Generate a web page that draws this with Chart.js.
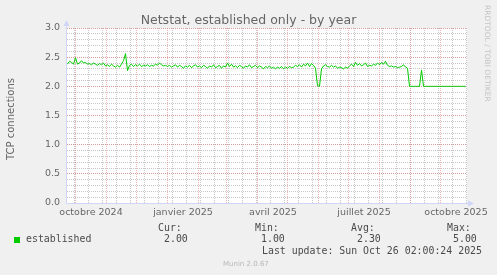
<!DOCTYPE html>
<html>
<head>
<meta charset="utf-8">
<script src="https://cdn.jsdelivr.net/npm/chart.js@4/dist/chart.umd.min.js"></script>
<style>
html,body{margin:0;padding:0;background:#f0f0f0;}
#wrap{position:relative;width:497px;height:275px;overflow:hidden;background:#f0f0f0;}
canvas{position:absolute;left:0;top:0;}
.t{position:absolute;white-space:pre;margin:0;}
.mono{font-family:"DejaVu Sans Mono",monospace;font-size:9.9px;line-height:12px;color:#4a4a4a;}
</style>
</head>
<body>
<div id="wrap">
<canvas id="c" width="497" height="275"></canvas>
<div class="t" id="title" style="left:0;top:12.5px;width:497px;text-align:center;font-family:'DejaVu Sans';font-size:12.5px;line-height:14px;color:#666;"></div>
<div class="t" id="ytitle" style="left:10.5px;top:119px;transform:translate(-50%,-50%) rotate(-90deg);font-family:'DejaVu Sans';font-size:10px;line-height:12px;color:#666;"></div>
<div class="t" id="watermark" style="left:483px;top:5px;writing-mode:vertical-rl;font-family:'DejaVu Sans';font-size:7.5px;line-height:9px;color:#c4c4c4;"></div>
<div id="legend"></div>
</div>
<script>
// ---- data ----
const chartTitle = "Netstat, established only - by year";
const yAxisTitle = "TCP connections";
const seriesName = "established";
const seriesColor = "#00cc00";
// one value every 2 days, starting 23 Sep 2024 (day 0)
const sampleStepDays = 2;
const connections = [
  2.38,2.43,2.41,2.38,2.49,2.38,2.40,2.44,2.40,2.41,
  2.38,2.39,2.37,2.40,2.38,2.36,2.39,2.37,2.40,2.35,
  2.37,2.34,2.38,2.35,2.33,2.36,2.33,2.38,2.44,2.56,
  2.27,2.36,2.38,2.34,2.37,2.35,2.38,2.34,2.36,2.35,
  2.37,2.34,2.36,2.35,2.38,2.36,2.40,2.37,2.35,2.36,
  2.34,
  2.36,2.33,2.35,2.37,2.33,2.36,2.34,2.31,2.35,2.33,
  2.36,2.32,2.35,2.37,2.33,2.35,2.32,2.36,2.34,2.31,
  2.35,2.33,2.37,2.32,2.34,2.36,2.31,2.35,2.33,2.40,
  2.34,2.38,2.33,2.35,2.32,2.36,2.34,2.31,2.35,2.33,
  2.37,2.32,2.34,2.36,2.32,2.35,2.33,2.30,2.34,2.32,
  2.35,2.31,2.33,2.30,2.33,2.31,
  2.34,2.30,2.33,2.31,2.34,2.32,2.33,2.36,2.34,2.37,
  2.33,2.38,2.35,2.40,2.34,2.39,2.36,2.31,
  2.01,2.00,2.30,
  2.35,2.37,2.34,2.33,2.36,2.33,2.35,2.31,2.33,2.32,2.30,2.33,2.31,
  2.35,2.38,2.34,2.41,2.36,2.39,2.35,2.37,2.40,2.34,
  2.36,2.35,2.38,2.36,2.40,2.37,2.41,2.38,2.43,2.36,
  2.34,2.35,2.33,2.34,2.32,2.33,2.34,2.37,2.33,2.31,
  2.00,2.00,2.00,2.00,2.00,2.00,
  2.28,
  2.00,2.00,2.00,2.00,2.00,2.00,2.00,2.00,2.00,2.00,2.00,
  2.00,2.00,2.00,2.00,2.00,2.00,2.00,2.00,2.00,2.00,2.00
];
// month starts (days since 23 Sep 2024): Oct 2024 ... Oct 2025
const monthStartDays = [8,39,69,100,131,159,190,220,251,281,312,343,373];
// quarter labels, centred mid-month
const xTickLabels = ["octobre 2024","janvier 2025","avril 2025","juillet 2025","octobre 2025"];
const xTickLabelDays = [23.5,115.5,205.5,296.5,388.5];
const yMajorTicks = [0,0.5,1.0,1.5,2.0,2.5,3.0];
const statNames = ["Cur:","Min:","Avg:","Max:"];
const statValues = ["2.00","1.00","2.30","5.00"];
const lastUpdate = "Last update: Sun Oct 26 02:00:24 2025";
const watermark = "RRDTOOL / TOBI OETIKER";
const footer = "Munin 2.0.67";

// ---- texts ----
document.getElementById('title').textContent = chartTitle;
document.getElementById('ytitle').textContent = yAxisTitle;
document.getElementById('watermark').textContent = watermark;
const legend = document.getElementById('legend');
function addText(txt, left, top, cls, style) {
  const d = document.createElement('div');
  d.className = 't ' + (cls || '');
  d.textContent = txt;
  d.style.left = left + 'px';
  d.style.top = top + 'px';
  if (style) d.style.cssText += style;
  legend.appendChild(d);
  return d;
}
const sw = document.createElement('div');
sw.style.cssText = 'position:absolute;left:14px;top:237px;width:6px;height:6px;background:' + seriesColor + ';';
legend.appendChild(sw);
addText(seriesName, 26, 233.3, 'mono');
const statNameX = [158, 255, 351, 447];
const statValX = [164, 261, 357, 453];
statNames.forEach((n, i) => addText(n, statNameX[i], 222.2, 'mono'));
statValues.forEach((v, i) => addText(v, statValX[i], 233.3, 'mono'));
addText(lastUpdate, 262, 245, 'mono');
addText(footer, 223, 260.4, '', "font-family:'DejaVu Sans';font-size:7px;line-height:9px;color:#b8b8b8;");

// ---- chart ----
const points = connections.map((v, i) => ({x: i * sampleStepDays, y: v}));
const xMinorDays = [];
for (let d = 7; d < 400; d += 14) xMinorDays.push(d);
const yMinorTicks = [];
for (let k = 0; k <= 30; k++) yMinorTicks.push(k / 10);

const canvasBg = {
  id: 'canvasBg',
  beforeDraw(chart) {
    const {ctx, chartArea: a} = chart;
    ctx.save();
    ctx.fillStyle = '#ffffff';
    ctx.fillRect(a.left, a.top, a.right - a.left, a.bottom - a.top);
    ctx.restore();
  }
};
const axisArrows = {
  id: 'axisArrows',
  afterDraw(chart) {
    const {ctx, chartArea: a} = chart;
    const ax = a.left - 0.5, ay = a.bottom + 0.5;
    ctx.save();
    ctx.strokeStyle = '#cfd6f8';
    ctx.fillStyle = '#cfd6f8';
    ctx.lineWidth = 1;
    ctx.beginPath();
    ctx.moveTo(ax, ay); ctx.lineTo(ax, a.top - 2);
    ctx.moveTo(ax, ay); ctx.lineTo(a.right + 1, ay);
    ctx.stroke();
    ctx.beginPath();
    ctx.moveTo(ax, a.top - 8); ctx.lineTo(ax - 3, a.top - 2); ctx.lineTo(ax + 3, a.top - 2); ctx.closePath();
    ctx.fill();
    ctx.beginPath();
    ctx.moveTo(a.right + 7, ay); ctx.lineTo(a.right + 1, ay - 3); ctx.lineTo(a.right + 1, ay + 3); ctx.closePath();
    ctx.fill();
    ctx.restore();
  }
};

const tickFont = {family: 'DejaVu Sans', size: 9.5};
new Chart(document.getElementById('c'), {
  type: 'line',
  data: {
    datasets: [{
      label: seriesName, data: points, borderColor: seriesColor, backgroundColor: seriesColor,
      borderWidth: 1, pointRadius: 0, tension: 0, fill: false, xAxisID: 'x', yAxisID: 'y'
    }]
  },
  options: {
    responsive: false, animation: false, devicePixelRatio: 1,
    layout: {padding: {left: 0, right: 30, top: 28, bottom: 52}},
    plugins: {legend: {display: false}, tooltip: {enabled: false}, title: {display: false}},
    scales: {
      x: {
        type: 'linear', position: 'bottom', min: -0.5, max: 399.5,
        afterBuildTicks: s => { s.ticks = xTickLabelDays.map(v => ({value: v})); },
        ticks: {autoSkip: false, maxRotation: 0, minRotation: 0, padding: 3.5, font: tickFont, color: '#666',
                callback: (v, i) => xTickLabels[i]},
        grid: {display: false, drawTicks: false},
        border: {display: false},
        afterFit: s => { s.height = 20; }
      },
      xMajor: {
        type: 'linear', position: 'bottom', min: -0.5, max: 399.5,
        afterBuildTicks: s => { s.ticks = monthStartDays.map(v => ({value: v})); },
        ticks: {display: false},
        grid: {color: 'rgba(230,120,120,0.55)', drawTicks: false, z: -1},
        border: {display: false, dash: [1, 1]},
        afterFit: s => { s.height = 0; }
      },
      xMinor: {
        type: 'linear', position: 'bottom', min: -0.5, max: 399.5,
        afterBuildTicks: s => { s.ticks = xMinorDays.map(v => ({value: v})); },
        ticks: {display: false},
        grid: {color: '#c8c8c8', drawTicks: false, z: -2},
        border: {display: false, dash: [1, 1]},
        afterFit: s => { s.height = 0; }
      },
      y: {
        type: 'linear', position: 'left', min: 0, max: 3,
        afterBuildTicks: s => { s.ticks = yMajorTicks.map(v => ({value: v})); },
        ticks: {autoSkip: false, padding: 7, font: tickFont, color: '#666', callback: v => Number(v).toFixed(1)},
        grid: {color: 'rgba(230,120,120,0.55)', drawTicks: false, z: -1},
        border: {display: false, dash: [1, 1]},
        afterFit: s => { s.width = 67; }
      },
      yMinor: {
        type: 'linear', position: 'left', min: 0, max: 3,
        afterBuildTicks: s => { s.ticks = yMinorTicks.map(v => ({value: v})); },
        ticks: {display: false},
        grid: {color: '#c8c8c8', drawTicks: false, z: -2},
        border: {display: false, dash: [1, 1]},
        afterFit: s => { s.width = 0; }
      }
    }
  },
  plugins: [canvasBg, axisArrows]
});
</script>
</body>
</html>
